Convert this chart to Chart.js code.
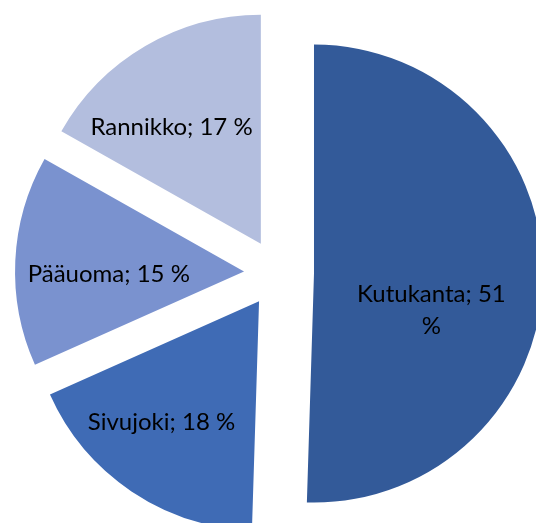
<!DOCTYPE html>
<html>
<head>
<meta charset="utf-8">
<script src="https://cdn.jsdelivr.net/npm/chart.js@4/dist/chart.umd.min.js"></script>
<style>
  html, body { margin: 0; padding: 0; background: #fff; overflow: hidden; }
</style>
</head>
<body>
<canvas id="chart" width="536" height="523"></canvas>
<script>
const categories = ["Kutukanta", "Sivujoki", "Pääuoma", "Rannikko"];
const shares = [51, 18, 15, 17];

const sliceColors = ["#335A99", "#3F6BB5", "#7A92CF", "#B3BEDE"];
const explode = [36, 34, 34, 34];
const labelFont = "24px Lato";
// small nudges from the default spot (0.6 r along the middle of the slice)
const labelNudge = [[-20, 35], [-21, 7], [2, 9], [-20, 2]];
const labelWrap = [150, 0, 0, 0];

// Excel style explosion: move every slice out along its middle angle
const explodePlugin = {
  id: "explode",
  afterDatasetUpdate(chart, args) {
    args.meta.data.forEach((arc, i) => {
      const mid = (arc.startAngle + arc.endAngle) / 2;
      arc.x += Math.cos(mid) * explode[i];
      arc.y += Math.sin(mid) * explode[i];
    });
  },
};

const labelPlugin = {
  id: "sliceLabels",
  afterDatasetsDraw(chart) {
    const ctx = chart.ctx;
    const meta = chart.getDatasetMeta(0);
    ctx.save();
    ctx.font = labelFont;
    ctx.fillStyle = "#000";
    ctx.textAlign = "center";
    ctx.textBaseline = "middle";
    meta.data.forEach((arc, i) => {
      const mid = (arc.startAngle + arc.endAngle) / 2;
      const x = arc.x + Math.cos(mid) * arc.outerRadius * 0.6 + labelNudge[i][0];
      const y = arc.y + Math.sin(mid) * arc.outerRadius * 0.6 + labelNudge[i][1];
      const text = categories[i] + "; " + shares[i] + " %";
      let lines = [text];
      if (labelWrap[i] && ctx.measureText(text).width > labelWrap[i]) {
        const cut = text.lastIndexOf(" ");
        lines = [text.slice(0, cut), text.slice(cut + 1)];
      }
      const lh = 32;
      lines.forEach((line, k) => {
        ctx.fillText(line, x, y + (k - (lines.length - 1) / 2) * lh);
      });
    });
    ctx.restore();
  },
};

new Chart(document.getElementById("chart"), {
  type: "pie",
  data: {
    labels: categories,
    datasets: [
      {
        data: shares,
        backgroundColor: sliceColors,
        borderWidth: 0,
        radius: 229,
        clip: false,
      },
    ],
  },
  options: {
    responsive: false,
    animation: false,
    devicePixelRatio: 1,
    events: [],
    layout: { padding: { left: 20, top: 23, right: 0, bottom: 0 } },
    plugins: {
      legend: { display: false },
      tooltip: { enabled: false },
    },
  },
  plugins: [explodePlugin, labelPlugin],
});
</script>
</body>
</html>
